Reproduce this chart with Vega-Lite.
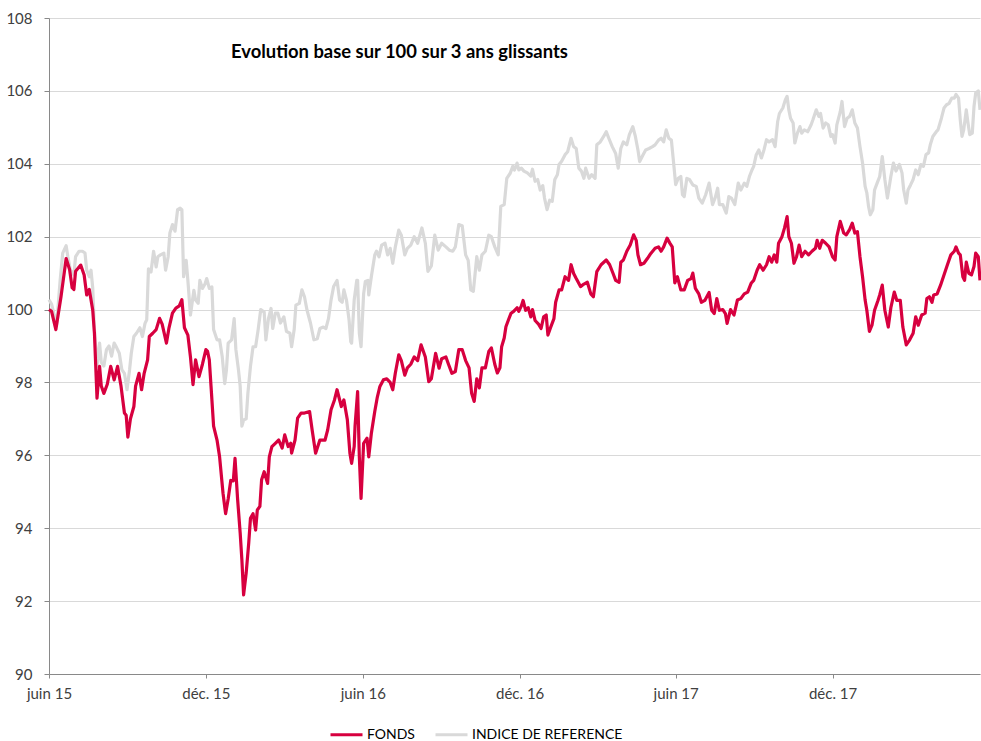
{
  "$schema": "https://vega.github.io/schema/vega-lite/v6.json",
  "width": 931,
  "height": 656,
  "autosize": "none",
  "padding": {"left": 49, "top": 18, "right": 1, "bottom": 67},
  "background": "white",
  "title": {"text": "Evolution base sur 100 sur 3 ans glissants", "anchor": "start", "frame": "group", "offset": -50, "dx": 182, "font": "Lato", "fontSize": 18.4, "fontWeight": "bold", "color": "#000000"},
  "config": {
    "view": {"stroke": null},
    "axis": {"labelFont": "Lato", "labelFontSize": 15, "labelColor": "#404040", "domainColor": "#898989", "tickColor": "#898989", "gridColor": "#d9d9d9", "title": null}
  },
  "datasets": {
    "fonds": [
      {"date":"2015-06-01","valeur":100.0},{"date":"2015-06-04","valeur":99.95},{"date":"2015-06-09","valeur":99.45},{"date":"2015-06-15","valeur":100.35},{"date":"2015-06-21","valeur":101.4},{"date":"2015-06-25","valeur":101.1},{"date":"2015-06-28","valeur":100.6},{"date":"2015-06-30","valeur":100.55},{"date":"2015-07-02","valeur":101.05},{"date":"2015-07-08","valeur":101.22},{"date":"2015-07-12","valeur":100.95},{"date":"2015-07-15","valeur":100.4},{"date":"2015-07-18","valeur":100.55},{"date":"2015-07-22","valeur":99.99},{"date":"2015-07-24","valeur":99.35},{"date":"2015-07-27","valeur":97.57},{"date":"2015-07-30","valeur":98.44},
      {"date":"2015-08-01","valeur":97.9},{"date":"2015-08-04","valeur":97.7},{"date":"2015-08-08","valeur":97.95},{"date":"2015-08-12","valeur":98.44},{"date":"2015-08-16","valeur":98.07},{"date":"2015-08-20","valeur":98.44},{"date":"2015-08-24","valeur":97.9},{"date":"2015-08-28","valeur":97.16},{"date":"2015-08-30","valeur":97.1},
      {"date":"2015-09-01","valeur":96.5},{"date":"2015-09-04","valeur":97.0},{"date":"2015-09-08","valeur":97.34},{"date":"2015-09-10","valeur":97.9},{"date":"2015-09-14","valeur":98.25},{"date":"2015-09-17","valeur":97.8},{"date":"2015-09-20","valeur":98.25},{"date":"2015-09-24","valeur":98.62},{"date":"2015-09-26","valeur":99.26},{"date":"2015-09-30","valeur":99.35},
      {"date":"2015-10-04","valeur":99.45},{"date":"2015-10-08","valeur":99.76},{"date":"2015-10-11","valeur":99.6},{"date":"2015-10-16","valeur":99.08},{"date":"2015-10-19","valeur":99.5},{"date":"2015-10-23","valeur":99.9},{"date":"2015-10-27","valeur":100.04},{"date":"2015-10-31","valeur":100.1},
      {"date":"2015-11-03","valeur":100.27},{"date":"2015-11-06","valeur":99.5},{"date":"2015-11-10","valeur":99.3},{"date":"2015-11-13","valeur":98.7},{"date":"2015-11-16","valeur":97.94},{"date":"2015-11-19","valeur":98.62},{"date":"2015-11-23","valeur":98.16},{"date":"2015-11-27","valeur":98.5},
      {"date":"2015-12-01","valeur":98.9},{"date":"2015-12-03","valeur":98.85},{"date":"2015-12-05","valeur":98.62},{"date":"2015-12-07","valeur":97.9},{"date":"2015-12-10","valeur":96.8},{"date":"2015-12-14","valeur":96.42},{"date":"2015-12-17","valeur":95.96},{"date":"2015-12-21","valeur":94.96},{"date":"2015-12-24","valeur":94.4},{"date":"2015-12-27","valeur":94.8},{"date":"2015-12-30","valeur":95.31},
      {"date":"2016-01-02","valeur":95.3},{"date":"2016-01-04","valeur":95.92},{"date":"2016-01-07","valeur":94.8},{"date":"2016-01-10","valeur":93.87},{"date":"2016-01-12","valeur":93.13},{"date":"2016-01-14","valeur":92.17},{"date":"2016-01-17","valeur":92.77},{"date":"2016-01-20","valeur":93.6},{"date":"2016-01-22","valeur":94.27},{"date":"2016-01-25","valeur":94.4},{"date":"2016-01-28","valeur":93.95},{"date":"2016-01-30","valeur":94.5},
      {"date":"2016-02-02","valeur":94.6},{"date":"2016-02-04","valeur":95.33},{"date":"2016-02-07","valeur":95.55},{"date":"2016-02-11","valeur":95.23},{"date":"2016-02-13","valeur":95.96},{"date":"2016-02-16","valeur":96.24},{"date":"2016-02-20","valeur":96.33},{"date":"2016-02-24","valeur":96.42},{"date":"2016-02-28","valeur":96.2},
      {"date":"2016-03-02","valeur":96.56},{"date":"2016-03-06","valeur":96.24},{"date":"2016-03-09","valeur":96.33},{"date":"2016-03-10","valeur":96.06},{"date":"2016-03-14","valeur":96.42},{"date":"2016-03-17","valeur":97.02},{"date":"2016-03-21","valeur":97.16},{"date":"2016-03-25","valeur":97.16},{"date":"2016-03-31","valeur":97.2},
      {"date":"2016-04-03","valeur":96.69},{"date":"2016-04-07","valeur":96.06},{"date":"2016-04-12","valeur":96.42},{"date":"2016-04-18","valeur":96.42},{"date":"2016-04-21","valeur":96.69},{"date":"2016-04-25","valeur":97.25},{"date":"2016-04-29","valeur":97.52},
      {"date":"2016-05-02","valeur":97.8},{"date":"2016-05-07","valeur":97.34},{"date":"2016-05-10","valeur":97.52},{"date":"2016-05-14","valeur":96.98},{"date":"2016-05-17","valeur":96.06},{"date":"2016-05-19","valeur":95.78},{"date":"2016-05-22","valeur":96.24},{"date":"2016-05-23","valeur":96.8},{"date":"2016-05-26","valeur":97.75},{"date":"2016-05-28","valeur":95.96},{"date":"2016-05-30","valeur":94.82},
      {"date":"2016-06-02","valeur":96.33},{"date":"2016-06-06","valeur":96.47},{"date":"2016-06-08","valeur":95.96},{"date":"2016-06-11","valeur":96.6},{"date":"2016-06-15","valeur":97.2},{"date":"2016-06-18","valeur":97.6},{"date":"2016-06-21","valeur":97.89},{"date":"2016-06-25","valeur":98.07},{"date":"2016-06-29","valeur":98.1},
      {"date":"2016-07-03","valeur":98.0},{"date":"2016-07-06","valeur":97.8},{"date":"2016-07-09","valeur":98.26},{"date":"2016-07-13","valeur":98.76},{"date":"2016-07-16","valeur":98.6},{"date":"2016-07-20","valeur":98.2},{"date":"2016-07-23","valeur":98.4},{"date":"2016-07-27","valeur":98.5},{"date":"2016-07-31","valeur":98.7},
      {"date":"2016-08-04","valeur":98.6},{"date":"2016-08-08","valeur":99.03},{"date":"2016-08-13","valeur":98.7},{"date":"2016-08-17","valeur":98.02},{"date":"2016-08-20","valeur":98.1},{"date":"2016-08-25","valeur":98.8},{"date":"2016-08-29","valeur":98.39},
      {"date":"2016-09-01","valeur":98.65},{"date":"2016-09-06","valeur":98.7},{"date":"2016-09-09","valeur":98.5},{"date":"2016-09-13","valeur":98.25},{"date":"2016-09-17","valeur":98.3},{"date":"2016-09-21","valeur":98.9},{"date":"2016-09-25","valeur":98.9},{"date":"2016-09-29","valeur":98.6},
      {"date":"2016-10-03","valeur":98.4},{"date":"2016-10-06","valeur":97.7},{"date":"2016-10-09","valeur":97.48},{"date":"2016-10-12","valeur":98.1},{"date":"2016-10-15","valeur":97.85},{"date":"2016-10-18","valeur":98.4},{"date":"2016-10-22","valeur":98.4},{"date":"2016-10-26","valeur":98.85},{"date":"2016-10-29","valeur":98.95},
      {"date":"2016-11-02","valeur":98.5},{"date":"2016-11-05","valeur":98.26},{"date":"2016-11-08","valeur":98.4},{"date":"2016-11-10","valeur":98.98},{"date":"2016-11-13","valeur":99.22},{"date":"2016-11-15","valeur":99.53},{"date":"2016-11-18","valeur":99.72},{"date":"2016-11-21","valeur":99.9},{"date":"2016-11-24","valeur":99.95},{"date":"2016-11-28","valeur":100.05},{"date":"2016-11-30","valeur":99.95},
      {"date":"2016-12-03","valeur":100.1},{"date":"2016-12-05","valeur":100.25},{"date":"2016-12-08","valeur":99.98},{"date":"2016-12-11","valeur":100.05},{"date":"2016-12-14","valeur":99.8},{"date":"2016-12-16","valeur":100.0},{"date":"2016-12-19","valeur":99.7},{"date":"2016-12-23","valeur":99.6},{"date":"2016-12-26","valeur":99.48},{"date":"2016-12-29","valeur":99.8},
      {"date":"2017-01-01","valeur":99.85},{"date":"2017-01-03","valeur":99.3},{"date":"2017-01-06","valeur":99.5},{"date":"2017-01-10","valeur":99.75},{"date":"2017-01-12","valeur":100.2},{"date":"2017-01-16","valeur":100.54},{"date":"2017-01-19","valeur":100.54},{"date":"2017-01-23","valeur":100.9},{"date":"2017-01-27","valeur":100.8},{"date":"2017-01-30","valeur":101.23},
      {"date":"2017-02-02","valeur":100.99},{"date":"2017-02-05","valeur":100.85},{"date":"2017-02-10","valeur":100.63},{"date":"2017-02-14","valeur":100.7},{"date":"2017-02-18","valeur":100.75},{"date":"2017-02-22","valeur":100.43},{"date":"2017-02-25","valeur":100.35},
      {"date":"2017-03-01","valeur":101.04},{"date":"2017-03-06","valeur":101.23},{"date":"2017-03-12","valeur":101.36},{"date":"2017-03-16","valeur":101.23},{"date":"2017-03-20","valeur":100.99},{"date":"2017-03-23","valeur":100.8},{"date":"2017-03-27","valeur":100.75},{"date":"2017-03-29","valeur":101.3},
      {"date":"2017-04-01","valeur":101.36},{"date":"2017-04-05","valeur":101.6},{"date":"2017-04-09","valeur":101.77},{"date":"2017-04-13","valeur":102.05},{"date":"2017-04-16","valeur":101.9},{"date":"2017-04-18","valeur":101.5},{"date":"2017-04-21","valeur":101.23},{"date":"2017-04-25","valeur":101.27},{"date":"2017-04-29","valeur":101.4},
      {"date":"2017-05-03","valeur":101.54},{"date":"2017-05-08","valeur":101.68},{"date":"2017-05-12","valeur":101.72},{"date":"2017-05-15","valeur":101.6},{"date":"2017-05-18","valeur":101.72},{"date":"2017-05-22","valeur":101.96},{"date":"2017-05-25","valeur":101.83},{"date":"2017-05-28","valeur":101.72},{"date":"2017-05-31","valeur":100.73},
      {"date":"2017-06-03","valeur":100.9},{"date":"2017-06-07","valeur":100.54},{"date":"2017-06-11","valeur":100.54},{"date":"2017-06-15","valeur":100.8},{"date":"2017-06-19","valeur":100.85},{"date":"2017-06-21","valeur":101.0},{"date":"2017-06-24","valeur":100.58},{"date":"2017-06-28","valeur":100.43},
      {"date":"2017-07-01","valeur":100.2},{"date":"2017-07-05","valeur":100.25},{"date":"2017-07-10","valeur":100.47},{"date":"2017-07-13","valeur":99.98},{"date":"2017-07-16","valeur":99.89},{"date":"2017-07-19","valeur":100.3},{"date":"2017-07-22","valeur":99.98},{"date":"2017-07-26","valeur":100.0},{"date":"2017-07-29","valeur":99.89},{"date":"2017-07-31","valeur":99.62},
      {"date":"2017-08-04","valeur":100.0},{"date":"2017-08-08","valeur":99.85},{"date":"2017-08-12","valeur":100.26},{"date":"2017-08-16","valeur":100.3},{"date":"2017-08-20","valeur":100.43},{"date":"2017-08-24","valeur":100.48},{"date":"2017-08-28","valeur":100.72},{"date":"2017-08-31","valeur":100.8},
      {"date":"2017-09-04","valeur":101.08},{"date":"2017-09-07","valeur":101.23},{"date":"2017-09-11","valeur":101.08},{"date":"2017-09-15","valeur":101.23},{"date":"2017-09-18","valeur":101.45},{"date":"2017-09-21","valeur":101.3},{"date":"2017-09-24","valeur":101.5},{"date":"2017-09-27","valeur":101.3},{"date":"2017-09-29","valeur":101.82},
      {"date":"2017-10-03","valeur":102.0},{"date":"2017-10-06","valeur":102.24},{"date":"2017-10-09","valeur":102.55},{"date":"2017-10-11","valeur":102.0},{"date":"2017-10-14","valeur":101.82},{"date":"2017-10-17","valeur":101.27},{"date":"2017-10-20","valeur":101.45},{"date":"2017-10-23","valeur":101.77},{"date":"2017-10-26","valeur":101.45},{"date":"2017-10-30","valeur":101.6},
      {"date":"2017-11-03","valeur":101.5},{"date":"2017-11-07","valeur":101.6},{"date":"2017-11-11","valeur":101.68},{"date":"2017-11-13","valeur":101.9},{"date":"2017-11-16","valeur":101.68},{"date":"2017-11-19","valeur":101.9},{"date":"2017-11-23","valeur":101.82},{"date":"2017-11-27","valeur":101.72},
      {"date":"2017-12-01","valeur":101.45},{"date":"2017-12-04","valeur":101.36},{"date":"2017-12-06","valeur":102.0},{"date":"2017-12-10","valeur":102.42},{"date":"2017-12-14","valeur":102.1},{"date":"2017-12-17","valeur":102.05},{"date":"2017-12-21","valeur":102.2},{"date":"2017-12-24","valeur":102.37},{"date":"2017-12-27","valeur":102.1},{"date":"2017-12-30","valeur":102.14},
      {"date":"2018-01-02","valeur":101.45},{"date":"2018-01-05","valeur":100.9},{"date":"2018-01-08","valeur":100.26},{"date":"2018-01-10","valeur":99.98},{"date":"2018-01-13","valeur":99.4},{"date":"2018-01-16","valeur":99.57},{"date":"2018-01-19","valeur":99.98},{"date":"2018-01-23","valeur":100.25},{"date":"2018-01-25","valeur":100.4},{"date":"2018-01-28","valeur":100.67},{"date":"2018-01-31","valeur":99.98},
      {"date":"2018-02-04","valeur":99.52},{"date":"2018-02-07","valeur":100.05},{"date":"2018-02-11","valeur":100.48},{"date":"2018-02-14","valeur":100.25},{"date":"2018-02-18","valeur":100.25},{"date":"2018-02-21","valeur":99.52},{"date":"2018-02-25","valeur":99.03},
      {"date":"2018-03-01","valeur":99.17},{"date":"2018-03-05","valeur":99.35},{"date":"2018-03-08","valeur":99.8},{"date":"2018-03-11","valeur":99.57},{"date":"2018-03-15","valeur":99.85},{"date":"2018-03-19","valeur":99.9},{"date":"2018-03-21","valeur":100.3},{"date":"2018-03-24","valeur":100.35},{"date":"2018-03-27","valeur":100.2},{"date":"2018-03-29","valeur":100.4},
      {"date":"2018-04-02","valeur":100.43},{"date":"2018-04-06","valeur":100.67},{"date":"2018-04-10","valeur":100.95},{"date":"2018-04-14","valeur":101.23},{"date":"2018-04-18","valeur":101.5},{"date":"2018-04-22","valeur":101.6},{"date":"2018-04-24","valeur":101.72},{"date":"2018-04-27","valeur":101.55},{"date":"2018-04-29","valeur":101.5},
      {"date":"2018-05-02","valeur":100.9},{"date":"2018-05-04","valeur":100.8},{"date":"2018-05-06","valeur":101.3},{"date":"2018-05-09","valeur":100.99},{"date":"2018-05-12","valeur":100.95},{"date":"2018-05-15","valeur":101.18},{"date":"2018-05-17","valeur":101.55},{"date":"2018-05-20","valeur":101.45},{"date":"2018-05-22","valeur":100.8}
    ],
    "indice": [
      {"date":"2015-06-01","valeur":100.27},{"date":"2015-06-04","valeur":100.15},{"date":"2015-06-07","valeur":99.85},{"date":"2015-06-10","valeur":99.6},{"date":"2015-06-14","valeur":100.8},{"date":"2015-06-17","valeur":101.55},{"date":"2015-06-21","valeur":101.75},{"date":"2015-06-23","valeur":101.45},{"date":"2015-06-26","valeur":101.08},{"date":"2015-06-30","valeur":100.95},
      {"date":"2015-07-02","valeur":101.45},{"date":"2015-07-06","valeur":101.6},{"date":"2015-07-10","valeur":101.6},{"date":"2015-07-13","valeur":101.55},{"date":"2015-07-15","valeur":101.08},{"date":"2015-07-18","valeur":100.9},{"date":"2015-07-20","valeur":101.08},{"date":"2015-07-22","valeur":100.6},{"date":"2015-07-24","valeur":99.45},{"date":"2015-07-27","valeur":98.44},{"date":"2015-07-30","valeur":99.08},
      {"date":"2015-08-01","valeur":98.55},{"date":"2015-08-04","valeur":98.45},{"date":"2015-08-07","valeur":98.9},{"date":"2015-08-10","valeur":99.0},{"date":"2015-08-13","valeur":98.72},{"date":"2015-08-16","valeur":99.08},{"date":"2015-08-19","valeur":98.95},{"date":"2015-08-22","valeur":98.8},{"date":"2015-08-25","valeur":98.35},{"date":"2015-08-28","valeur":98.25},{"date":"2015-08-31","valeur":97.8},
      {"date":"2015-09-03","valeur":98.35},{"date":"2015-09-05","valeur":98.8},{"date":"2015-09-08","valeur":99.26},{"date":"2015-09-11","valeur":99.35},{"date":"2015-09-15","valeur":99.5},{"date":"2015-09-18","valeur":99.26},{"date":"2015-09-21","valeur":99.62},{"date":"2015-09-23","valeur":99.72},{"date":"2015-09-25","valeur":101.12},{"date":"2015-09-28","valeur":101.03},
      {"date":"2015-10-01","valeur":101.6},{"date":"2015-10-04","valeur":101.17},{"date":"2015-10-06","valeur":101.45},{"date":"2015-10-09","valeur":101.5},{"date":"2015-10-13","valeur":101.55},{"date":"2015-10-15","valeur":101.08},{"date":"2015-10-18","valeur":101.45},{"date":"2015-10-20","valeur":102.1},{"date":"2015-10-23","valeur":102.33},{"date":"2015-10-26","valeur":102.15},{"date":"2015-10-29","valeur":102.74},
      {"date":"2015-11-01","valeur":102.78},{"date":"2015-11-03","valeur":102.74},{"date":"2015-11-05","valeur":100.9},{"date":"2015-11-08","valeur":101.35},{"date":"2015-11-10","valeur":100.8},{"date":"2015-11-13","valeur":99.85},{"date":"2015-11-17","valeur":100.53},{"date":"2015-11-19","valeur":100.26},{"date":"2015-11-22","valeur":100.17},{"date":"2015-11-24","valeur":100.8},{"date":"2015-11-27","valeur":100.58},{"date":"2015-11-30","valeur":100.7},
      {"date":"2015-12-02","valeur":100.85},{"date":"2015-12-05","valeur":100.58},{"date":"2015-12-08","valeur":100.62},{"date":"2015-12-10","valeur":99.45},{"date":"2015-12-14","valeur":99.17},{"date":"2015-12-17","valeur":99.17},{"date":"2015-12-20","valeur":98.72},{"date":"2015-12-23","valeur":97.97},{"date":"2015-12-25","valeur":98.35},{"date":"2015-12-27","valeur":99.08},{"date":"2015-12-31","valeur":99.17},
      {"date":"2016-01-03","valeur":99.75},{"date":"2016-01-05","valeur":98.9},{"date":"2016-01-08","valeur":98.35},{"date":"2016-01-10","valeur":97.9},{"date":"2016-01-12","valeur":96.8},{"date":"2016-01-14","valeur":96.97},{"date":"2016-01-17","valeur":97.0},{"date":"2016-01-19","valeur":97.7},{"date":"2016-01-22","valeur":98.44},{"date":"2016-01-25","valeur":98.98},{"date":"2016-01-28","valeur":98.98},{"date":"2016-01-31","valeur":99.45},
      {"date":"2016-02-03","valeur":100.0},{"date":"2016-02-07","valeur":99.93},{"date":"2016-02-09","valeur":99.17},{"date":"2016-02-12","valeur":99.75},{"date":"2016-02-15","valeur":100.03},{"date":"2016-02-17","valeur":99.48},{"date":"2016-02-20","valeur":99.9},{"date":"2016-02-23","valeur":99.9},{"date":"2016-02-26","valeur":99.63},
      {"date":"2016-03-01","valeur":99.8},{"date":"2016-03-04","valeur":99.4},{"date":"2016-03-08","valeur":99.35},{"date":"2016-03-10","valeur":98.98},{"date":"2016-03-13","valeur":99.45},{"date":"2016-03-15","valeur":100.12},{"date":"2016-03-19","valeur":100.17},{"date":"2016-03-22","valeur":100.54},{"date":"2016-03-25","valeur":100.35},{"date":"2016-03-28","valeur":99.98},
      {"date":"2016-04-01","valeur":99.63},{"date":"2016-04-05","valeur":99.17},{"date":"2016-04-09","valeur":99.2},{"date":"2016-04-12","valeur":99.48},{"date":"2016-04-16","valeur":99.52},{"date":"2016-04-19","valeur":99.48},{"date":"2016-04-22","valeur":99.75},{"date":"2016-04-25","valeur":100.26},{"date":"2016-04-28","valeur":100.63},
      {"date":"2016-05-02","valeur":100.8},{"date":"2016-05-05","valeur":100.26},{"date":"2016-05-08","valeur":100.2},{"date":"2016-05-10","valeur":100.54},{"date":"2016-05-13","valeur":100.26},{"date":"2016-05-16","valeur":99.72},{"date":"2016-05-18","valeur":99.12},{"date":"2016-05-19","valeur":99.08},{"date":"2016-05-22","valeur":100.26},{"date":"2016-05-25","valeur":100.8},{"date":"2016-05-26","valeur":100.8},{"date":"2016-05-28","valeur":99.35},{"date":"2016-05-30","valeur":98.98},
      {"date":"2016-06-02","valeur":100.43},{"date":"2016-06-04","valeur":100.77},{"date":"2016-06-07","valeur":100.8},{"date":"2016-06-08","valeur":100.4},{"date":"2016-06-11","valeur":100.9},{"date":"2016-06-15","valeur":101.5},{"date":"2016-06-17","valeur":101.6},{"date":"2016-06-20","valeur":101.45},{"date":"2016-06-23","valeur":101.77},{"date":"2016-06-27","valeur":101.82},{"date":"2016-06-30","valeur":101.5},
      {"date":"2016-07-03","valeur":101.68},{"date":"2016-07-06","valeur":101.27},{"date":"2016-07-09","valeur":101.72},{"date":"2016-07-13","valeur":102.18},{"date":"2016-07-16","valeur":102.04},{"date":"2016-07-20","valeur":101.5},{"date":"2016-07-23","valeur":101.68},{"date":"2016-07-27","valeur":101.77},{"date":"2016-07-31","valeur":102.0},
      {"date":"2016-08-04","valeur":101.82},{"date":"2016-08-09","valeur":102.24},{"date":"2016-08-13","valeur":101.82},{"date":"2016-08-16","valeur":101.05},{"date":"2016-08-20","valeur":101.2},{"date":"2016-08-24","valeur":102.04},{"date":"2016-08-28","valeur":101.63},
      {"date":"2016-09-01","valeur":101.82},{"date":"2016-09-06","valeur":101.72},{"date":"2016-09-10","valeur":101.63},{"date":"2016-09-14","valeur":101.6},{"date":"2016-09-17","valeur":101.72},{"date":"2016-09-21","valeur":102.33},{"date":"2016-09-25","valeur":102.3},{"date":"2016-09-29","valeur":101.5},
      {"date":"2016-10-02","valeur":101.35},{"date":"2016-10-05","valeur":100.54},{"date":"2016-10-08","valeur":100.5},{"date":"2016-10-12","valeur":101.45},{"date":"2016-10-15","valeur":101.08},{"date":"2016-10-18","valeur":101.5},{"date":"2016-10-22","valeur":101.6},{"date":"2016-10-26","valeur":102.04},{"date":"2016-10-29","valeur":102.0},
      {"date":"2016-11-02","valeur":101.72},{"date":"2016-11-06","valeur":101.5},{"date":"2016-11-09","valeur":102.83},{"date":"2016-11-13","valeur":102.88},{"date":"2016-11-16","valeur":103.6},{"date":"2016-11-20","valeur":103.74},{"date":"2016-11-23","valeur":103.93},{"date":"2016-11-25","valeur":103.83},{"date":"2016-11-28","valeur":104.02},{"date":"2016-11-30","valeur":103.83},
      {"date":"2016-12-03","valeur":103.88},{"date":"2016-12-06","valeur":103.8},{"date":"2016-12-10","valeur":103.75},{"date":"2016-12-14","valeur":103.66},{"date":"2016-12-16","valeur":103.85},{"date":"2016-12-19","valeur":103.52},{"date":"2016-12-22","valeur":103.57},{"date":"2016-12-25","valeur":103.28},{"date":"2016-12-28","valeur":103.4},{"date":"2016-12-30","valeur":103.06},
      {"date":"2017-01-02","valeur":102.74},{"date":"2017-01-05","valeur":103.0},{"date":"2017-01-08","valeur":102.97},{"date":"2017-01-11","valeur":103.57},{"date":"2017-01-14","valeur":103.7},{"date":"2017-01-16","valeur":103.98},{"date":"2017-01-19","valeur":104.07},{"date":"2017-01-23","valeur":104.25},{"date":"2017-01-26","valeur":104.33},{"date":"2017-01-30","valeur":104.7},
      {"date":"2017-02-02","valeur":104.47},{"date":"2017-02-05","valeur":104.42},{"date":"2017-02-08","valeur":103.88},{"date":"2017-02-11","valeur":103.8},{"date":"2017-02-14","valeur":103.6},{"date":"2017-02-16","valeur":103.88},{"date":"2017-02-20","valeur":103.6},{"date":"2017-02-23","valeur":103.7},{"date":"2017-02-27","valeur":103.6},
      {"date":"2017-03-01","valeur":104.52},{"date":"2017-03-05","valeur":104.6},{"date":"2017-03-09","valeur":104.75},{"date":"2017-03-12","valeur":104.88},{"date":"2017-03-15","valeur":104.7},{"date":"2017-03-19","valeur":104.47},{"date":"2017-03-23","valeur":104.28},{"date":"2017-03-26","valeur":103.88},{"date":"2017-03-29","valeur":104.42},
      {"date":"2017-04-01","valeur":104.6},{"date":"2017-04-05","valeur":104.52},{"date":"2017-04-08","valeur":104.8},{"date":"2017-04-12","valeur":105.02},{"date":"2017-04-15","valeur":104.75},{"date":"2017-04-18","valeur":104.38},{"date":"2017-04-20","valeur":104.06},{"date":"2017-04-24","valeur":104.25},{"date":"2017-04-27","valeur":104.38},
      {"date":"2017-05-01","valeur":104.42},{"date":"2017-05-05","valeur":104.47},{"date":"2017-05-08","valeur":104.52},{"date":"2017-05-12","valeur":104.65},{"date":"2017-05-15","valeur":104.7},{"date":"2017-05-18","valeur":104.6},{"date":"2017-05-21","valeur":104.93},{"date":"2017-05-24","valeur":104.7},{"date":"2017-05-27","valeur":104.65},{"date":"2017-05-30","valeur":103.93},
      {"date":"2017-06-01","valeur":103.43},{"date":"2017-06-04","valeur":103.6},{"date":"2017-06-07","valeur":103.65},{"date":"2017-06-09","valeur":103.15},{"date":"2017-06-11","valeur":103.1},{"date":"2017-06-14","valeur":103.6},{"date":"2017-06-17","valeur":103.57},{"date":"2017-06-21","valeur":103.42},{"date":"2017-06-25","valeur":103.38},{"date":"2017-06-28","valeur":103.06},
      {"date":"2017-07-02","valeur":102.92},{"date":"2017-07-06","valeur":103.15},{"date":"2017-07-10","valeur":103.47},{"date":"2017-07-14","valeur":102.88},{"date":"2017-07-17","valeur":103.06},{"date":"2017-07-20","valeur":103.33},{"date":"2017-07-22","valeur":102.88},{"date":"2017-07-26","valeur":102.88},{"date":"2017-07-29","valeur":102.7},{"date":"2017-07-30","valeur":102.65},
      {"date":"2017-08-02","valeur":103.1},{"date":"2017-08-05","valeur":103.06},{"date":"2017-08-09","valeur":102.88},{"date":"2017-08-13","valeur":103.47},{"date":"2017-08-16","valeur":103.28},{"date":"2017-08-20","valeur":103.47},{"date":"2017-08-23","valeur":103.38},{"date":"2017-08-26","valeur":103.65},{"date":"2017-08-29","valeur":103.83},{"date":"2017-08-31","valeur":103.93},
      {"date":"2017-09-03","valeur":104.25},{"date":"2017-09-06","valeur":104.38},{"date":"2017-09-09","valeur":104.16},{"date":"2017-09-12","valeur":104.38},{"date":"2017-09-15","valeur":104.66},{"date":"2017-09-18","valeur":104.6},{"date":"2017-09-22","valeur":104.66},{"date":"2017-09-25","valeur":104.47},{"date":"2017-09-28","valeur":105.16},{"date":"2017-09-30","valeur":105.38},
      {"date":"2017-10-04","valeur":105.53},{"date":"2017-10-07","valeur":105.76},{"date":"2017-10-09","valeur":105.85},{"date":"2017-10-11","valeur":105.48},{"date":"2017-10-13","valeur":105.25},{"date":"2017-10-16","valeur":105.12},{"date":"2017-10-18","valeur":104.57},{"date":"2017-10-21","valeur":104.84},{"date":"2017-10-24","valeur":105.02},{"date":"2017-10-26","valeur":104.84},{"date":"2017-10-29","valeur":104.93},
      {"date":"2017-11-02","valeur":104.88},{"date":"2017-11-06","valeur":105.07},{"date":"2017-11-08","valeur":105.2},{"date":"2017-11-12","valeur":105.48},{"date":"2017-11-15","valeur":105.3},{"date":"2017-11-17","valeur":105.38},{"date":"2017-11-20","valeur":104.98},{"date":"2017-11-23","valeur":105.12},{"date":"2017-11-26","valeur":105.07},{"date":"2017-11-29","valeur":104.75},
      {"date":"2017-12-01","valeur":104.8},{"date":"2017-12-04","valeur":104.57},{"date":"2017-12-06","valeur":105.07},{"date":"2017-12-10","valeur":105.43},{"date":"2017-12-12","valeur":105.71},{"date":"2017-12-15","valeur":105.02},{"date":"2017-12-18","valeur":105.25},{"date":"2017-12-21","valeur":105.3},{"date":"2017-12-24","valeur":105.48},{"date":"2017-12-27","valeur":105.12},{"date":"2017-12-30","valeur":104.98},
      {"date":"2018-01-02","valeur":104.47},{"date":"2018-01-05","valeur":104.02},{"date":"2018-01-08","valeur":103.38},{"date":"2018-01-10","valeur":103.2},{"date":"2018-01-12","valeur":102.83},{"date":"2018-01-14","valeur":102.6},{"date":"2018-01-17","valeur":102.74},{"date":"2018-01-19","valeur":103.28},{"date":"2018-01-22","valeur":103.47},{"date":"2018-01-25","valeur":103.65},{"date":"2018-01-28","valeur":104.2},{"date":"2018-01-31","valeur":103.57},
      {"date":"2018-02-03","valeur":103.06},{"date":"2018-02-07","valeur":103.65},{"date":"2018-02-10","valeur":104.02},{"date":"2018-02-13","valeur":103.8},{"date":"2018-02-17","valeur":103.98},{"date":"2018-02-20","valeur":103.75},{"date":"2018-02-22","valeur":103.28},{"date":"2018-02-25","valeur":102.92},{"date":"2018-02-27","valeur":103.28},
      {"date":"2018-03-02","valeur":103.42},{"date":"2018-03-05","valeur":103.57},{"date":"2018-03-08","valeur":103.83},{"date":"2018-03-11","valeur":103.7},{"date":"2018-03-14","valeur":103.98},{"date":"2018-03-17","valeur":103.93},{"date":"2018-03-20","valeur":104.25},{"date":"2018-03-23","valeur":104.3},{"date":"2018-03-25","valeur":104.52},{"date":"2018-03-28","valeur":104.75},
      {"date":"2018-04-01","valeur":104.88},{"date":"2018-04-03","valeur":104.93},{"date":"2018-04-07","valeur":105.25},{"date":"2018-04-10","valeur":105.53},{"date":"2018-04-13","valeur":105.62},{"date":"2018-04-16","valeur":105.66},{"date":"2018-04-19","valeur":105.8},{"date":"2018-04-22","valeur":105.8},{"date":"2018-04-24","valeur":105.9},{"date":"2018-04-27","valeur":105.8},{"date":"2018-04-29","valeur":105.2},
      {"date":"2018-05-01","valeur":104.75},{"date":"2018-05-03","valeur":104.93},{"date":"2018-05-06","valeur":105.48},{"date":"2018-05-08","valeur":105.12},{"date":"2018-05-10","valeur":104.8},{"date":"2018-05-13","valeur":104.84},{"date":"2018-05-15","valeur":105.57},{"date":"2018-05-17","valeur":105.94},{"date":"2018-05-20","valeur":106.0},{"date":"2018-05-22","valeur":105.48}
    ]
  },
  "encoding": {
    "x": {
      "field": "date", "type": "temporal",
      "scale": {"type": "utc", "domain": [{"year": 2015, "month": 6, "date": 1, "utc": true}, {"year": 2018, "month": 5, "date": 22, "utc": true}]},
      "axis": {
        "values": [{"year": 2015, "month": 6, "date": 1, "utc": true}, {"year": 2015, "month": 12, "date": 1, "utc": true}, {"year": 2016, "month": 6, "date": 1, "utc": true}, {"year": 2016, "month": 12, "date": 1, "utc": true}, {"year": 2017, "month": 6, "date": 1, "utc": true}, {"year": 2017, "month": 12, "date": 1, "utc": true}],
        "labelExpr": "(utcmonth(datum.value) == 5 ? 'juin ' : 'déc. ') + utcFormat(datum.value, '%y')",
        "grid": false, "tickSize": 4, "labelPadding": 8, "labelAngle": 0, "labelAlign": "center", "labelFlush": false, "labelOverlap": false
      }
    },
    "y": {
      "field": "valeur", "type": "quantitative",
      "scale": {"domain": [90, 108], "nice": false, "zero": false},
      "axis": {"values": [90, 92, 94, 96, 98, 100, 102, 104, 106, 108], "grid": true, "tickSize": 5, "labelPadding": 12}
    }
  },
  "layer": [
    {
      "data": {"name": "indice"},
      "mark": {"type": "line", "strokeWidth": 3.2, "strokeJoin": "round", "interpolate": "linear"},
      "encoding": {
        "color": {
          "datum": "INDICE DE REFERENCE",
          "scale": {"domain": ["FONDS", "INDICE DE REFERENCE"], "range": ["#d7003f", "#d9d9d9"]},
          "legend": {"title": null, "orient": "none", "legendX": 280, "legendY": 699, "direction": "horizontal", "symbolType": "stroke", "symbolSize": 1024, "symbolStrokeWidth": 3, "labelFont": "Lato", "labelFontSize": 14, "labelColor": "#000000", "columnPadding": 14, "labelOffset": 3, "padding": 0}
        }
      }
    },
    {
      "data": {"name": "fonds"},
      "mark": {"type": "line", "strokeWidth": 3.2, "strokeJoin": "round", "interpolate": "linear"},
      "encoding": {"color": {"datum": "FONDS"}}
    }
  ]
}
